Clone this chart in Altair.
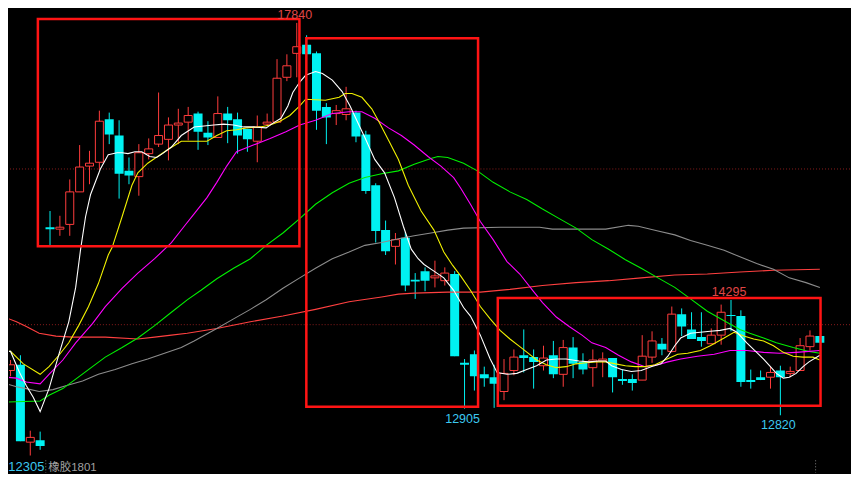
import altair as alt
import pandas as pd

# ---------------- candle data (index 0..82) ----------------
opens = [13393, 13466, 12476, 12501, 15226, 15201, 15262, 15678, 16008, 16057,
         16607, 16399, 15947, 15873, 16167, 16289, 16350, 16533, 16570, 16680,
         16436, 16374, 16680, 16607, 16484, 16326, 16545, 16570, 17144, 17450,
         17560, 17450, 16765, 16680, 16668, 16692, 16411, 15763, 15189, 14981,
         15091, 14554, 14664, 14578, 14542, 14627, 13491, 13600, 13344, 13307,
         13124, 13393, 13588, 13564, 13454, 13588, 13344, 13686, 13503, 13429,
         13515, 13552, 13283, 13283, 13270, 13564, 13735, 13637, 14114, 13918,
         13820, 13735, 13845, 14102, 14089, 13270, 13307, 13307, 13393, 13356,
         13393, 13698, 13833]
highs = [13527, 13588, 12623, 12611, 15433, 15372, 15837, 16277, 16203, 16717,
         16692, 16594, 16118, 16289, 16362, 16949, 16631, 16741, 16765, 16704,
         16582, 16900, 16765, 16692, 16484, 16655, 16680, 17376, 17438, 17840,
         17682, 17474, 16814, 16790, 17022, 16717, 16460, 15788, 15311, 15152,
         15165, 14639, 14712, 14798, 14712, 14664, 13539, 13649, 13442, 13466,
         13539, 13662, 13918, 13662, 13710, 13771, 13784, 13820, 13613, 13662,
         13625, 13552, 13405, 13344, 13845, 13894, 13808, 14211, 14187, 14138,
         14138, 13931, 14236, 14295, 14163, 13405, 13393, 13442, 13454, 13442,
         13808, 13906, 13833]
lows = [13319, 12489, 12305, 12378, 14994, 15116, 15116, 15678, 15776, 15959,
        16289, 15592, 15776, 15629, 16093, 16252, 16081, 16289, 16338, 16216,
        16277, 16374, 16301, 16167, 16191, 16057, 16533, 16558, 17095, 17144,
        17438, 16472, 16289, 16533, 16594, 16313, 15653, 15030, 14871, 14749,
        14407, 14309, 14407, 14456, 14480, 13576, 12905, 13136, 13185, 12915,
        13013, 13332, 13368, 13161, 13393, 13295, 13185, 13295, 13344, 13185,
        13307, 13112, 13210, 13136, 13270, 13491, 13588, 13625, 13833, 13796,
        13698, 13735, 13723, 13894, 13185, 13161, 13270, 13161, 12820, 13307,
        13393, 13649, 13747]
closes = [13466, 12489, 12537, 12427, 15201, 15226, 15678, 15996, 16045, 16582,
          16411, 15910, 15886, 16179, 16228, 16399, 16533, 16558, 16655, 16448,
          16374, 16680, 16594, 16399, 16350, 16509, 16570, 17132, 17291, 17535,
          17438, 16717, 16631, 16717, 16741, 16387, 15690, 15177, 14920, 15067,
          14480, 14530, 14542, 14603, 14639, 13576, 13466, 13319, 13295, 13222,
          13356, 13564, 13552, 13503, 13552, 13344, 13686, 13478, 13405, 13527,
          13539, 13307, 13258, 13234, 13576, 13771, 13662, 14114, 13955, 13796,
          13771, 13845, 14138, 14089, 13246, 13246, 13270, 13368, 13307, 13381,
          13710, 13833, 13747]

# ---------------- moving average lines (index, price) ----------------
ma5 = [(-0.4, 13637), (0, 13637), (0.9, 13370), (1.6, 13197), (2.3, 13051), (3.0, 12867),
       (3.9, 13161), (4.9, 13600), (5.9, 14016), (6.6, 14456), (7.1, 14945), (7.6, 15360),
       (8.1, 15641), (9.1, 15971), (9.9, 16154), (10.8, 16179), (11.3, 16179), (11.9, 16167),
       (12.6, 16191), (13.3, 16191), (14.1, 16130), (14.8, 16118), (15.4, 16167), (16.3, 16252),
       (17.3, 16399), (18.6, 16509), (19.6, 16521), (20.6, 16533), (21.6, 16545), (22.6, 16533),
       (23.6, 16509), (24.6, 16509), (25.9, 16497), (26.6, 16558), (27.4, 16619), (28.1, 16778),
       (28.6, 16949), (29.3, 17083), (29.9, 17169), (30.9, 17218), (31.6, 17193), (32.6, 17108),
       (33.6, 16961), (34.4, 16778), (35.3, 16533), (35.9, 16374), (36.9, 16093), (37.9, 15922),
       (38.9, 15605), (39.8, 15238), (40.6, 14945), (41.3, 14823), (41.9, 14749), (42.9, 14664),
       (43.9, 14578), (44.9, 14419), (45.9, 14199), (46.6, 14089), (47.6, 13845), (48.6, 13539),
       (49.3, 13368), (50.3, 13344), (51.3, 13356), (52.3, 13405), (53.3, 13454), (54.3, 13527),
       (55.3, 13539), (56.3, 13539), (57.6, 13515), (58.6, 13503), (59.6, 13515), (60.3, 13515),
       (60.9, 13454), (61.9, 13405), (62.9, 13381), (63.9, 13393), (64.9, 13442), (65.9, 13478),
       (66.6, 13576), (67.3, 13710), (67.9, 13808), (68.9, 13869), (69.9, 13882), (70.9, 13894),
       (71.9, 13906), (72.9, 13931), (73.6, 13882), (74.6, 13747), (75.6, 13625), (76.3, 13539),
       (76.9, 13454), (77.6, 13356), (78.3, 13295), (78.9, 13307), (79.6, 13356), (80.3, 13442),
       (80.9, 13503), (82.0, 13588)]
ma10 = [(-0.4, 13637), (0, 13637), (1.3, 13478), (3.0, 13344), (3.9, 13442), (4.9, 13588),
        (5.9, 13747), (6.9, 13967), (7.9, 14211), (8.9, 14505), (9.9, 14871), (10.3, 14969),
        (11.3, 15360), (12.3, 15763), (12.9, 15922), (13.9, 16045), (14.9, 16130), (15.9, 16216),
        (17.3, 16326), (17.9, 16326), (19.9, 16326), (20.9, 16399), (21.9, 16460), (22.9, 16472),
        (23.9, 16497), (25.3, 16509), (26.3, 16533), (27.3, 16582), (28.3, 16655), (29.3, 16778),
        (29.9, 16863), (31.9, 16851), (33.3, 16888), (33.9, 16937), (34.6, 16937), (35.6, 16888),
        (36.6, 16741), (37.3, 16582), (38.3, 16338), (39.3, 16093), (40.3, 15763), (41.6, 15433),
        (42.9, 15189), (43.9, 14908), (44.8, 14737), (45.6, 14603), (46.6, 14419), (47.6, 14211),
        (48.6, 14053), (49.6, 13906), (50.6, 13796), (51.6, 13698), (52.6, 13600), (53.3, 13527),
        (54.3, 13466), (55.3, 13429), (56.3, 13442), (57.3, 13478), (58.3, 13491), (59.3, 13503),
        (60.3, 13503), (61.3, 13478), (62.3, 13454), (63.3, 13442), (64.3, 13442), (65.3, 13466),
        (66.3, 13527), (67.6, 13600), (68.6, 13613), (69.9, 13649), (70.9, 13710), (72.3, 13808),
        (73.3, 13882), (74.3, 13833), (75.3, 13796), (76.3, 13771), (77.3, 13710), (78.3, 13625),
        (79.3, 13576), (80.3, 13564), (81.3, 13564), (82.0, 13527)]
ma20 = [(-0.4, 13307), (0.6, 13295), (1.6, 13246), (3.0, 13222), (3.9, 13344), (5.3, 13527),
        (6.6, 13747), (8.3, 13992), (9.6, 14211), (11.3, 14444), (12.9, 14639), (14.6, 14823),
        (16.3, 15030), (17.6, 15238), (18.6, 15397), (19.9, 15605), (20.9, 15800), (21.9, 16008),
        (22.9, 16191), (24.6, 16277), (26.3, 16362), (27.9, 16448), (29.3, 16533), (30.9, 16594),
        (32.6, 16680), (34.3, 16704), (35.6, 16704), (36.9, 16619), (38.3, 16497), (39.6, 16399),
        (40.9, 16277), (42.3, 16130), (43.6, 16008), (44.9, 15861), (45.6, 15727), (46.6, 15519),
        (47.6, 15299), (48.9, 15067), (50.3, 14786), (51.6, 14627), (52.9, 14419), (53.9, 14260),
        (55.3, 14077), (56.6, 13955), (57.9, 13845), (58.9, 13747), (60.3, 13686), (61.6, 13588),
        (62.9, 13503), (64.3, 13442), (65.6, 13466), (66.6, 13503), (67.9, 13539), (69.6, 13576),
        (71.3, 13600), (72.9, 13649), (74.6, 13649), (76.3, 13625), (77.9, 13613), (79.6, 13625),
        (80.9, 13637), (82.0, 13649)]
ma40 = [(-0.4, 12989), (3.0, 13002), (3.9, 13075), (5.3, 13161), (6.6, 13283), (8.3, 13442),
        (9.6, 13564), (11.3, 13686), (12.9, 13808), (14.6, 13967), (16.3, 14138), (17.9, 14297),
        (19.3, 14419), (20.9, 14566), (22.6, 14700), (24.3, 14823), (25.9, 14994), (27.6, 15152),
        (29.3, 15336), (30.9, 15519), (32.6, 15666), (34.3, 15788), (35.9, 15861), (37.6, 15910),
        (39.3, 15947), (40.9, 16032), (42.6, 16106), (43.3, 16130), (44.3, 16118), (45.9, 16045),
        (47.3, 15947), (48.9, 15800), (50.6, 15678), (52.3, 15580), (53.9, 15458), (55.6, 15336),
        (57.3, 15214), (58.9, 15067), (60.6, 14945), (62.3, 14810), (63.9, 14700), (65.6, 14578),
        (67.3, 14456), (68.9, 14309), (70.6, 14150), (72.3, 14028), (73.9, 13918), (74.9, 13869),
        (76.3, 13808), (77.6, 13747), (79.3, 13686), (80.9, 13637), (82.0, 13613)]
ma60 = [(-0.4, 13222), (0.6, 13185), (1.6, 13161), (2.9, 13124), (4.3, 13148), (5.6, 13197),
        (7.3, 13258), (8.9, 13344), (10.6, 13405), (12.3, 13478), (13.9, 13539), (15.6, 13613),
        (17.3, 13686), (18.6, 13771), (20.9, 13931), (22.6, 14053), (24.3, 14175), (25.9, 14297),
        (27.6, 14444), (29.3, 14578), (30.9, 14700), (32.6, 14823), (34.3, 14908), (35.9, 14994),
        (37.6, 15030), (39.3, 15079), (40.9, 15116), (42.6, 15152), (44.3, 15189), (45.9, 15214),
        (49.6, 15226), (53.6, 15226), (54.9, 15201), (60.3, 15201), (62.6, 15250), (63.6, 15238),
        (65.6, 15177), (67.3, 15128), (68.9, 15055), (70.6, 14994), (72.3, 14932), (73.9, 14847),
        (75.6, 14761), (77.3, 14688), (78.9, 14578), (80.6, 14517), (82.0, 14456)]
ma120 = [(-0.4, 14065), (0.6, 14016), (1.6, 13955), (2.9, 13869), (4.6, 13833), (6.3, 13820),
         (9.6, 13820), (12.9, 13796), (14.6, 13820), (16.3, 13845), (17.9, 13869), (20.9, 13931),
         (24.3, 14016), (27.6, 14089), (30.9, 14175), (34.3, 14273), (37.6, 14334), (39.3, 14370),
         (40.9, 14383), (44.3, 14395), (47.6, 14395), (50.6, 14431), (53.9, 14480), (57.3, 14517),
         (60.6, 14542), (63.9, 14578), (67.3, 14615), (70.6, 14627), (73.9, 14652), (77.3, 14676),
         (82.0, 14688)]

# ---------------- annotation boxes, grid, labels ----------------
box_k1 = [2.77, 29.97, 49.37]
box_k2 = [29.27, 47.37, 82.07]
box_p1 = [17890, 17645, 14321]
box_p2 = [14981, 12928, 12941]
grid_prices = [15971, 13979]
sep_k = [3.57, 81.57]
high_lab_k = [29, 73]
high_lab_p = [17840, 14295]
low_lab_k = [46, 78]
low_lab_p = [12905, 12820]
first_low_k = 2
first_low_p = 12305
contract_name = "橡胶1801"

RED = "#ff3c3c"
CYAN = "#00f2f2"
LAB_RED = "#e04646"
LAB_CYAN = "#3cc8f0"

W, H = 842, 460
xs = alt.Scale(domain=[0.35, 84.55], nice=False, zero=False)
ys = alt.Scale(domain=[12085, 17963], nice=False, zero=False)


def X(f):
    return alt.X(f, type="quantitative", scale=xs, axis=None)


def Y(f):
    return alt.Y(f, type="quantitative", scale=ys, axis=None)


n = len(opens)
cdf = pd.DataFrame({"k": list(range(n)), "o": opens, "h": highs, "l": lows, "c": closes})
cdf["lo"] = cdf[["o", "c"]].min(axis=1)
cdf["hi"] = cdf[["o", "c"]].max(axis=1)
cdf["dir"] = ["up" if c >= o else "down" for o, c in zip(opens, closes)]

base = alt.Chart(cdf)
dir_color = alt.Color("dir:N", scale=alt.Scale(domain=["up", "down"], range=[RED, CYAN]), legend=None)

grid = alt.Chart(pd.DataFrame({"p": grid_prices})).mark_rule(
    color="#8a1c1c", strokeDash=[1, 2], strokeWidth=1).encode(y=Y("p"))

sep = alt.Chart(pd.DataFrame({"k": sep_k, "p1": [12244, 12244], "p2": [12085, 12085]})).mark_rule(
    color="#808080", strokeDash=[1, 2], strokeWidth=1).encode(x=X("k"), y=Y("p1"), y2="p2")

wicks = base.mark_rule(strokeWidth=1, clip=True).encode(x=X("k"), y=Y("h"), y2="l", color=dir_color)

up_bodies = base.transform_filter(alt.datum.dir == "up").mark_bar(
    size=8, fill="black", stroke=RED, strokeWidth=1, clip=True).encode(x=X("k"), y=Y("lo"), y2="hi")
down_bodies = base.transform_filter(alt.datum.dir == "down").mark_bar(
    size=9, fill=CYAN, clip=True).encode(x=X("k"), y=Y("lo"), y2="hi")

lines = []
for pts, col in [(ma120, "#ff4040"), (ma60, "#8c8c8c"), (ma40, "#00f000"),
                 (ma20, "#ff00ff"), (ma10, "#f0f000"), (ma5, "#ffffff")]:
    d = pd.DataFrame(pts, columns=["k", "p"])
    lines.append(alt.Chart(d).mark_line(color=col, strokeWidth=1.1, clip=True).encode(
        x=X("k"), y=Y("p"), order="k:Q"))

boxes = alt.Chart(pd.DataFrame({"k1": box_k1, "k2": box_k2, "p1": box_p1, "p2": box_p2})).mark_rect(
    fillOpacity=0, stroke="#ff1414", strokeWidth=2.5).encode(x=X("k1"), x2="k2", y=Y("p1"), y2="p2")

FONT = "Liberation Sans, Arial, Noto Sans CJK SC"
top_lab = alt.Chart(pd.DataFrame({"k": high_lab_k, "p": high_lab_p,
                                  "t": [str(v) for v in high_lab_p]})).mark_text(
    color=LAB_RED, font=FONT, fontSize=12.5, baseline="bottom", dx=-2, dy=-1).encode(
    x=X("k"), y=Y("p"), text="t:N")
low_lab = alt.Chart(pd.DataFrame({"k": low_lab_k, "p": low_lab_p,
                                  "t": [str(v) for v in low_lab_p]})).mark_text(
    color=LAB_CYAN, font=FONT, fontSize=12.5, baseline="top", dx=-2, dy=4).encode(
    x=X("k"), y=Y("p"), text="t:N")
first_df = pd.DataFrame({"k": [first_low_k], "p": [first_low_p], "t": [str(first_low_p)],
                         "name": [contract_name]})
first_lab = alt.Chart(first_df).mark_text(
    color=LAB_CYAN, font=FONT, fontSize=13, baseline="top", align="left", dx=-22, dy=5).encode(
    x=X("k"), y=Y("p"), text="t:N")
name_lab = alt.Chart(first_df).mark_text(
    color="#a0a0a0", font=FONT, fontSize=11.5, baseline="top", align="left", dx=18, dy=6).encode(
    x=X("k"), y=Y("p"), text="name:N")

chart = alt.layer(grid, sep, wicks, up_bodies, down_bodies, *lines, boxes,
                  top_lab, low_lab, first_lab, name_lab).properties(
    width=W, height=H, padding=0, background="black"
).configure_view(strokeWidth=0)

chart.save("out.html", embed_options={"renderer": "svg", "actions": False})
